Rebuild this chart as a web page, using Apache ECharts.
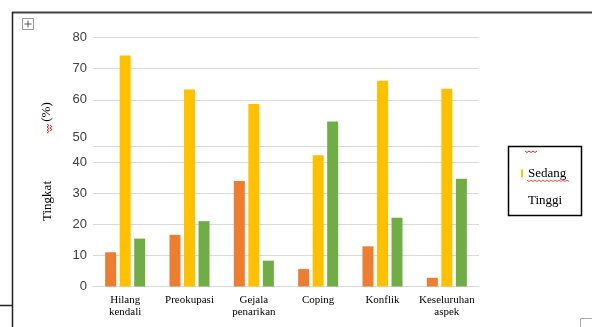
<!DOCTYPE html>
<html>
<head>
<meta charset="utf-8">
<script src="https://cdn.jsdelivr.net/npm/echarts@6/dist/echarts.min.js"></script>
<style>
  html, body { margin: 0; padding: 0; background: #fff; }
  #chart { width: 592px; height: 327px; }
</style>
</head>
<body>
<div id="chart"></div>
<script>
// categories and values
const categories = ['Hilang\nkendali', 'Preokupasi', 'Gejala\npenarikan', 'Coping', 'Konflik', 'Keseluruhan\naspek'];
const rendah = [11.0, 16.6, 33.9, 5.6, 12.9, 2.8];
const sedang = [74.2, 63.3, 58.6, 42.2, 66.1, 63.5];
const tinggi = [15.4, 21.0, 8.3, 53.0, 22.1, 34.6];

// the y axis of the original is drawn unevenly: gridlines and labels do not line up at "50"
const gridValues = [0, 10, 20, 30, 40, 45, 60, 70, 80];
const labelValues = [0, 10, 20, 30, 40, 48, 60, 70, 80];
const tickLabels = ['0', '10', '20', '30', '40', '50', '60', '70', '80'];

const chart = echarts.init(document.getElementById('chart'));

const options = {
  animation: false,
  grid: { left: 93, right: 113, top: 37.5, bottom: 40.5 },
  xAxis: {
    type: 'category',
    data: categories,
    axisLine: { lineStyle: { color: '#d9d9d9', width: 1 } },
    axisTick: { show: false },
    axisLabel: {
      margin: 8,
      interval: 0,
      color: '#000',
      fontFamily: 'Liberation Serif',
      fontSize: 11,
      lineHeight: 12
    }
  },
  yAxis: {
    type: 'value',
    min: 0,
    max: 80,
    axisLine: { show: false },
    axisTick: { show: false, customValues: gridValues },
    splitLine: { lineStyle: { color: '#d9d9d9', width: 1 } },
    axisLabel: {
      customValues: labelValues,
      margin: 6,
      color: '#404040',
      fontFamily: 'Liberation Sans',
      fontSize: 13,
      formatter: function (v) {
        const i = labelValues.indexOf(v);
        return i >= 0 ? tickLabels[i] : '';
      }
    }
  },
  legend: {
    orient: 'vertical',
    left: 516,
    top: 161,
    itemWidth: 2,
    itemHeight: 8,
    itemGap: 12,
    selectedMode: false,
    itemStyle: { borderWidth: 0 },
    textStyle: { fontFamily: 'Liberation Serif', fontSize: 13, color: '#000', lineHeight: 15 },
    data: [
      { name: 'Sedang', icon: 'rect' },
      { name: 'Tinggi', icon: 'rect', itemStyle: { opacity: 0 } }
    ]
  },
  series: [
    { name: 'Rendah', type: 'bar', data: rendah, barWidth: 11, barGap: '32%',
      itemStyle: { color: '#ed7d31' } },
    { name: 'Sedang', type: 'bar', data: sedang, barWidth: 11, barGap: '32%',
      itemStyle: { color: '#ffc000' } },
    { name: 'Tinggi', type: 'bar', data: tinggi, barWidth: 11, barGap: '32%',
      itemStyle: { color: '#70ad47' } }
  ],
  graphic: [
    // page frame
    { type: 'line', shape: { x1: 12, y1: 12.5, x2: 592, y2: 12.5 }, style: { stroke: '#444', lineWidth: 2 } },
    { type: 'line', shape: { x1: 12.5, y1: 12, x2: 12.5, y2: 327 }, style: { stroke: '#222', lineWidth: 1.5 } },
    { type: 'line', shape: { x1: 0, y1: 305.5, x2: 12, y2: 305.5 }, style: { stroke: '#222', lineWidth: 1.5 } },
    { type: 'polyline', shape: { points: [[580.5, 327], [580.5, 318.5], [592, 318.5]] }, style: { stroke: '#aaa', fill: null, lineWidth: 1 } },
    // move handle
    { type: 'rect', shape: { x: 22.5, y: 18.5, width: 11, height: 11 }, style: { stroke: '#999', fill: '#fff', lineWidth: 1 } },
    { type: 'line', shape: { x1: 28, y1: 20.5, x2: 28, y2: 27.5 }, style: { stroke: '#555', lineWidth: 1 } },
    { type: 'line', shape: { x1: 24.5, y1: 24, x2: 31.5, y2: 24 }, style: { stroke: '#555', lineWidth: 1 } },
    // axis titles
    { type: 'text', x: 48, y: 201, rotation: Math.PI / 2,
      style: { text: 'Tingkat', font: '13px "Liberation Serif"', fill: '#000', align: 'center', verticalAlign: 'middle' } },
    { type: 'text', x: 47, y: 112, rotation: Math.PI / 2,
      style: { text: '(%)', font: '13px "Liberation Serif"', fill: '#000', align: 'center', verticalAlign: 'middle' } },
    { type: 'polyline', shape: { points: [[47, 124], [49, 125.5], [47, 127], [49, 128.5], [47, 130], [49, 131.5], [47, 133]] },
      style: { stroke: '#e02020', fill: null, lineWidth: 1 } },
    { type: 'polyline', shape: { points: [[50, 125], [52, 126.5], [50, 128], [52, 129.5], [50, 131]] },
      style: { stroke: '#e02020', fill: null, lineWidth: 1 } },
    // legend box
    { type: 'rect', shape: { x: 508.5, y: 146.5, width: 73, height: 69 }, style: { stroke: '#000', fill: null, lineWidth: 1.5 } },
    { type: 'polyline', shape: { points: [[525, 151], [527, 152.5], [529, 151], [531, 152.5], [533, 151], [535, 152.5], [537, 151]] },
      style: { stroke: '#e02020', fill: null, lineWidth: 1 } },
    { type: 'polyline', shape: { points: [[527, 180], [529, 181.5], [531, 180], [533, 181.5], [535, 180], [537, 181.5], [539, 180], [541, 181.5], [543, 180], [545, 181.5], [547, 180], [549, 181.5], [551, 180], [553, 181.5], [555, 180], [557, 181.5], [559, 180], [561, 181.5], [563, 180], [565, 181.5], [567, 180], [569, 181.5]] },
      style: { stroke: '#e02020', fill: null, lineWidth: 0.8 } }
  ]
};

chart.setOption(options);
</script>
</body>
</html>
